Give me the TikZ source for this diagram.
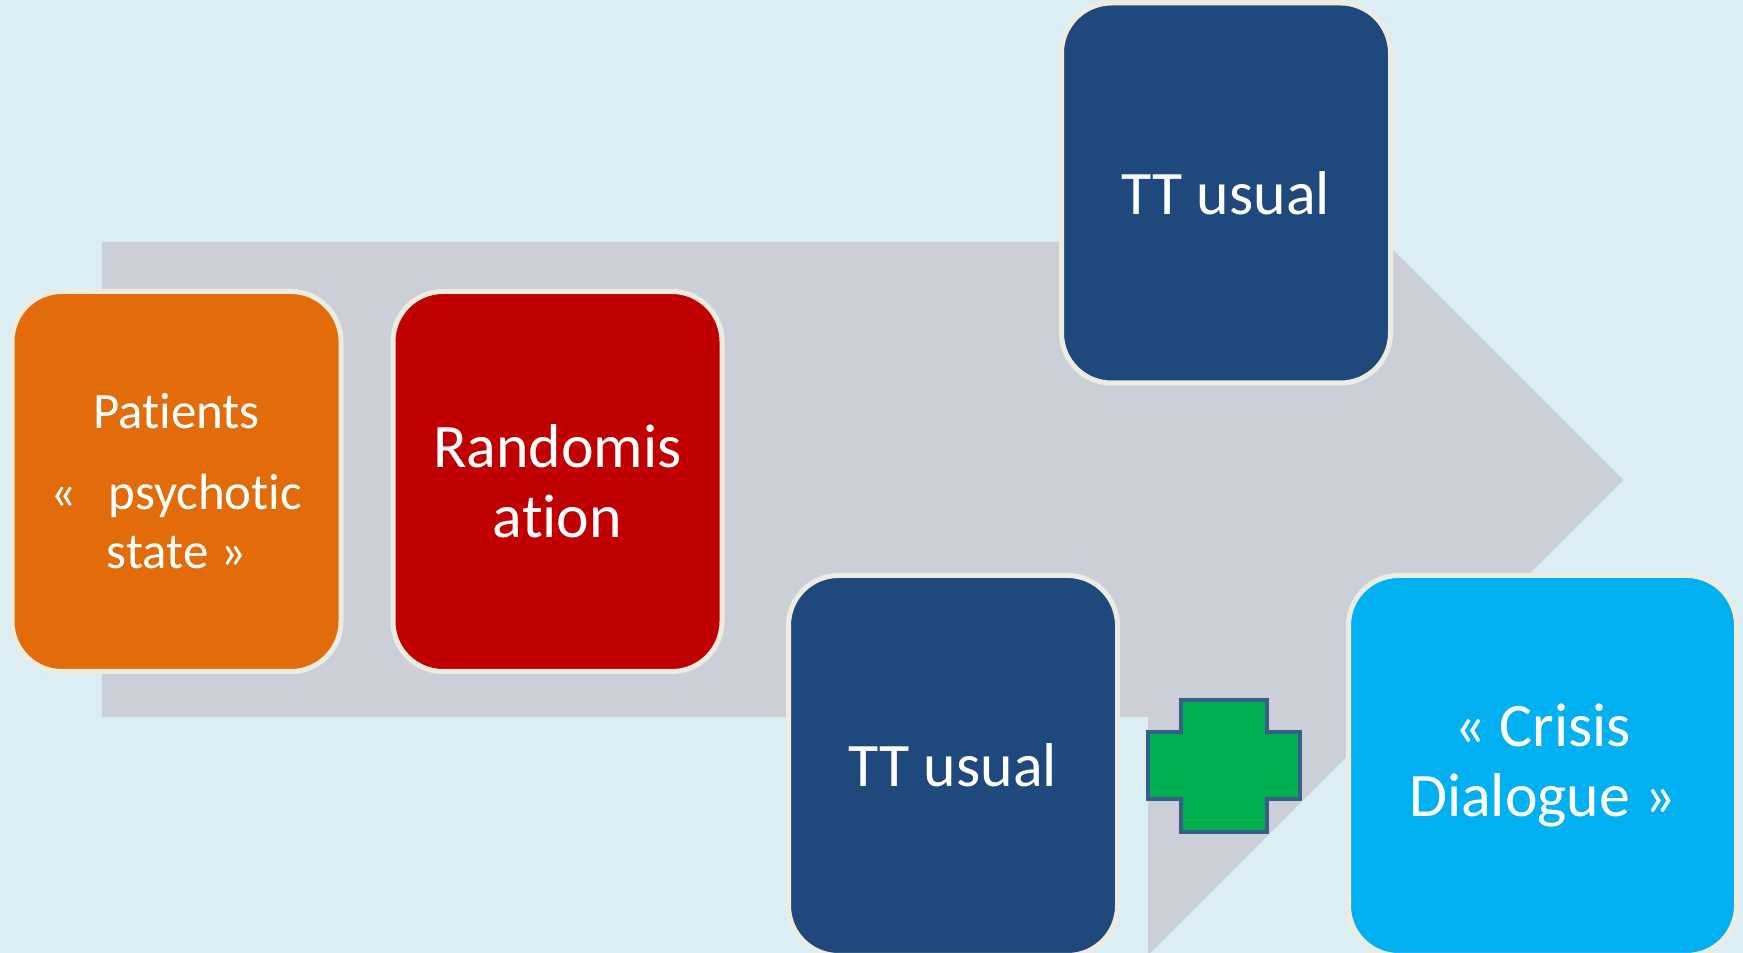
\documentclass[tikz,border=0pt]{standalone}
\usepackage{fontspec}
\newfontfamily\calibfont[Ligatures=NoCommon]{Carlito}
\definecolor{trialbg}{RGB}{219,238,244}
\definecolor{trialgray}{RGB}{204,207,216}
\definecolor{trialorange}{RGB}{227,108,10}
\definecolor{trialred}{RGB}{192,0,0}
\definecolor{trialnavy}{RGB}{31,73,125}
\definecolor{trialcyan}{RGB}{0,176,240}
\definecolor{trialgreen}{RGB}{0,176,80}
\definecolor{trialcross}{RGB}{56,93,138}
\definecolor{trialrim}{RGB}{238,236,225}
\usepackage{tikz}
\usetikzlibrary{positioning}

\begin{document}
\begin{tikzpicture}[node distance=0.47cm,
  stage/.style={draw=trialrim, line width=0.05cm, rounded corners=0.5cm, text=white, align=center,
    inner sep=0pt, minimum width=3.29cm, minimum height=3.80cm, font=\calibfont\fontsize{17.6}{19.9}\selectfont}]
  % background and block arrow
  \fill[trialbg] (0,0) rectangle (17.43,9.53);
  \useasboundingbox (0,0) rectangle (17.43,9.53);
  \fill[trialgray] (1.02,7.11) -- (11.48,7.11) -- (11.48,9.48) -- (16.23,4.73) -- (11.48,-0.02)
    -- (11.48,2.36) -- (1.02,2.36) -- cycle;

  % stages
  \node[stage, fill=trialorange, font=\calibfont\fontsize{14.5}{17}\selectfont] (pat) at (1.765,4.715)
    {Patients\\[5.8pt]«~~\,psychotic\\state~»};
  \node[stage, fill=trialred, right=of pat] (rand) {Randomis\\ation};
  \node[stage, fill=trialnavy] (tthigh) at (12.26,7.60) {TT usual};
  \node[stage, fill=trialnavy] (ttlow) at (9.53,1.875) {TT usual};
  \node[stage, fill=trialcyan, minimum width=3.88cm] (crisis) at (15.425,1.875) {«~Crisis\\Dialogue~»};

  % plus sign
  \draw[trialcross, fill=trialgreen, line width=0.04cm, shift={(12.24,1.87)}]
    (-0.43,0.66) -- (0.43,0.66) -- (0.43,0.335) -- (0.76,0.335) -- (0.76,-0.335) -- (0.43,-0.335)
    -- (0.43,-0.66) -- (-0.43,-0.66) -- (-0.43,-0.335) -- (-0.76,-0.335) -- (-0.76,0.335) -- (-0.43,0.335) -- cycle;
\end{tikzpicture}
\end{document}
